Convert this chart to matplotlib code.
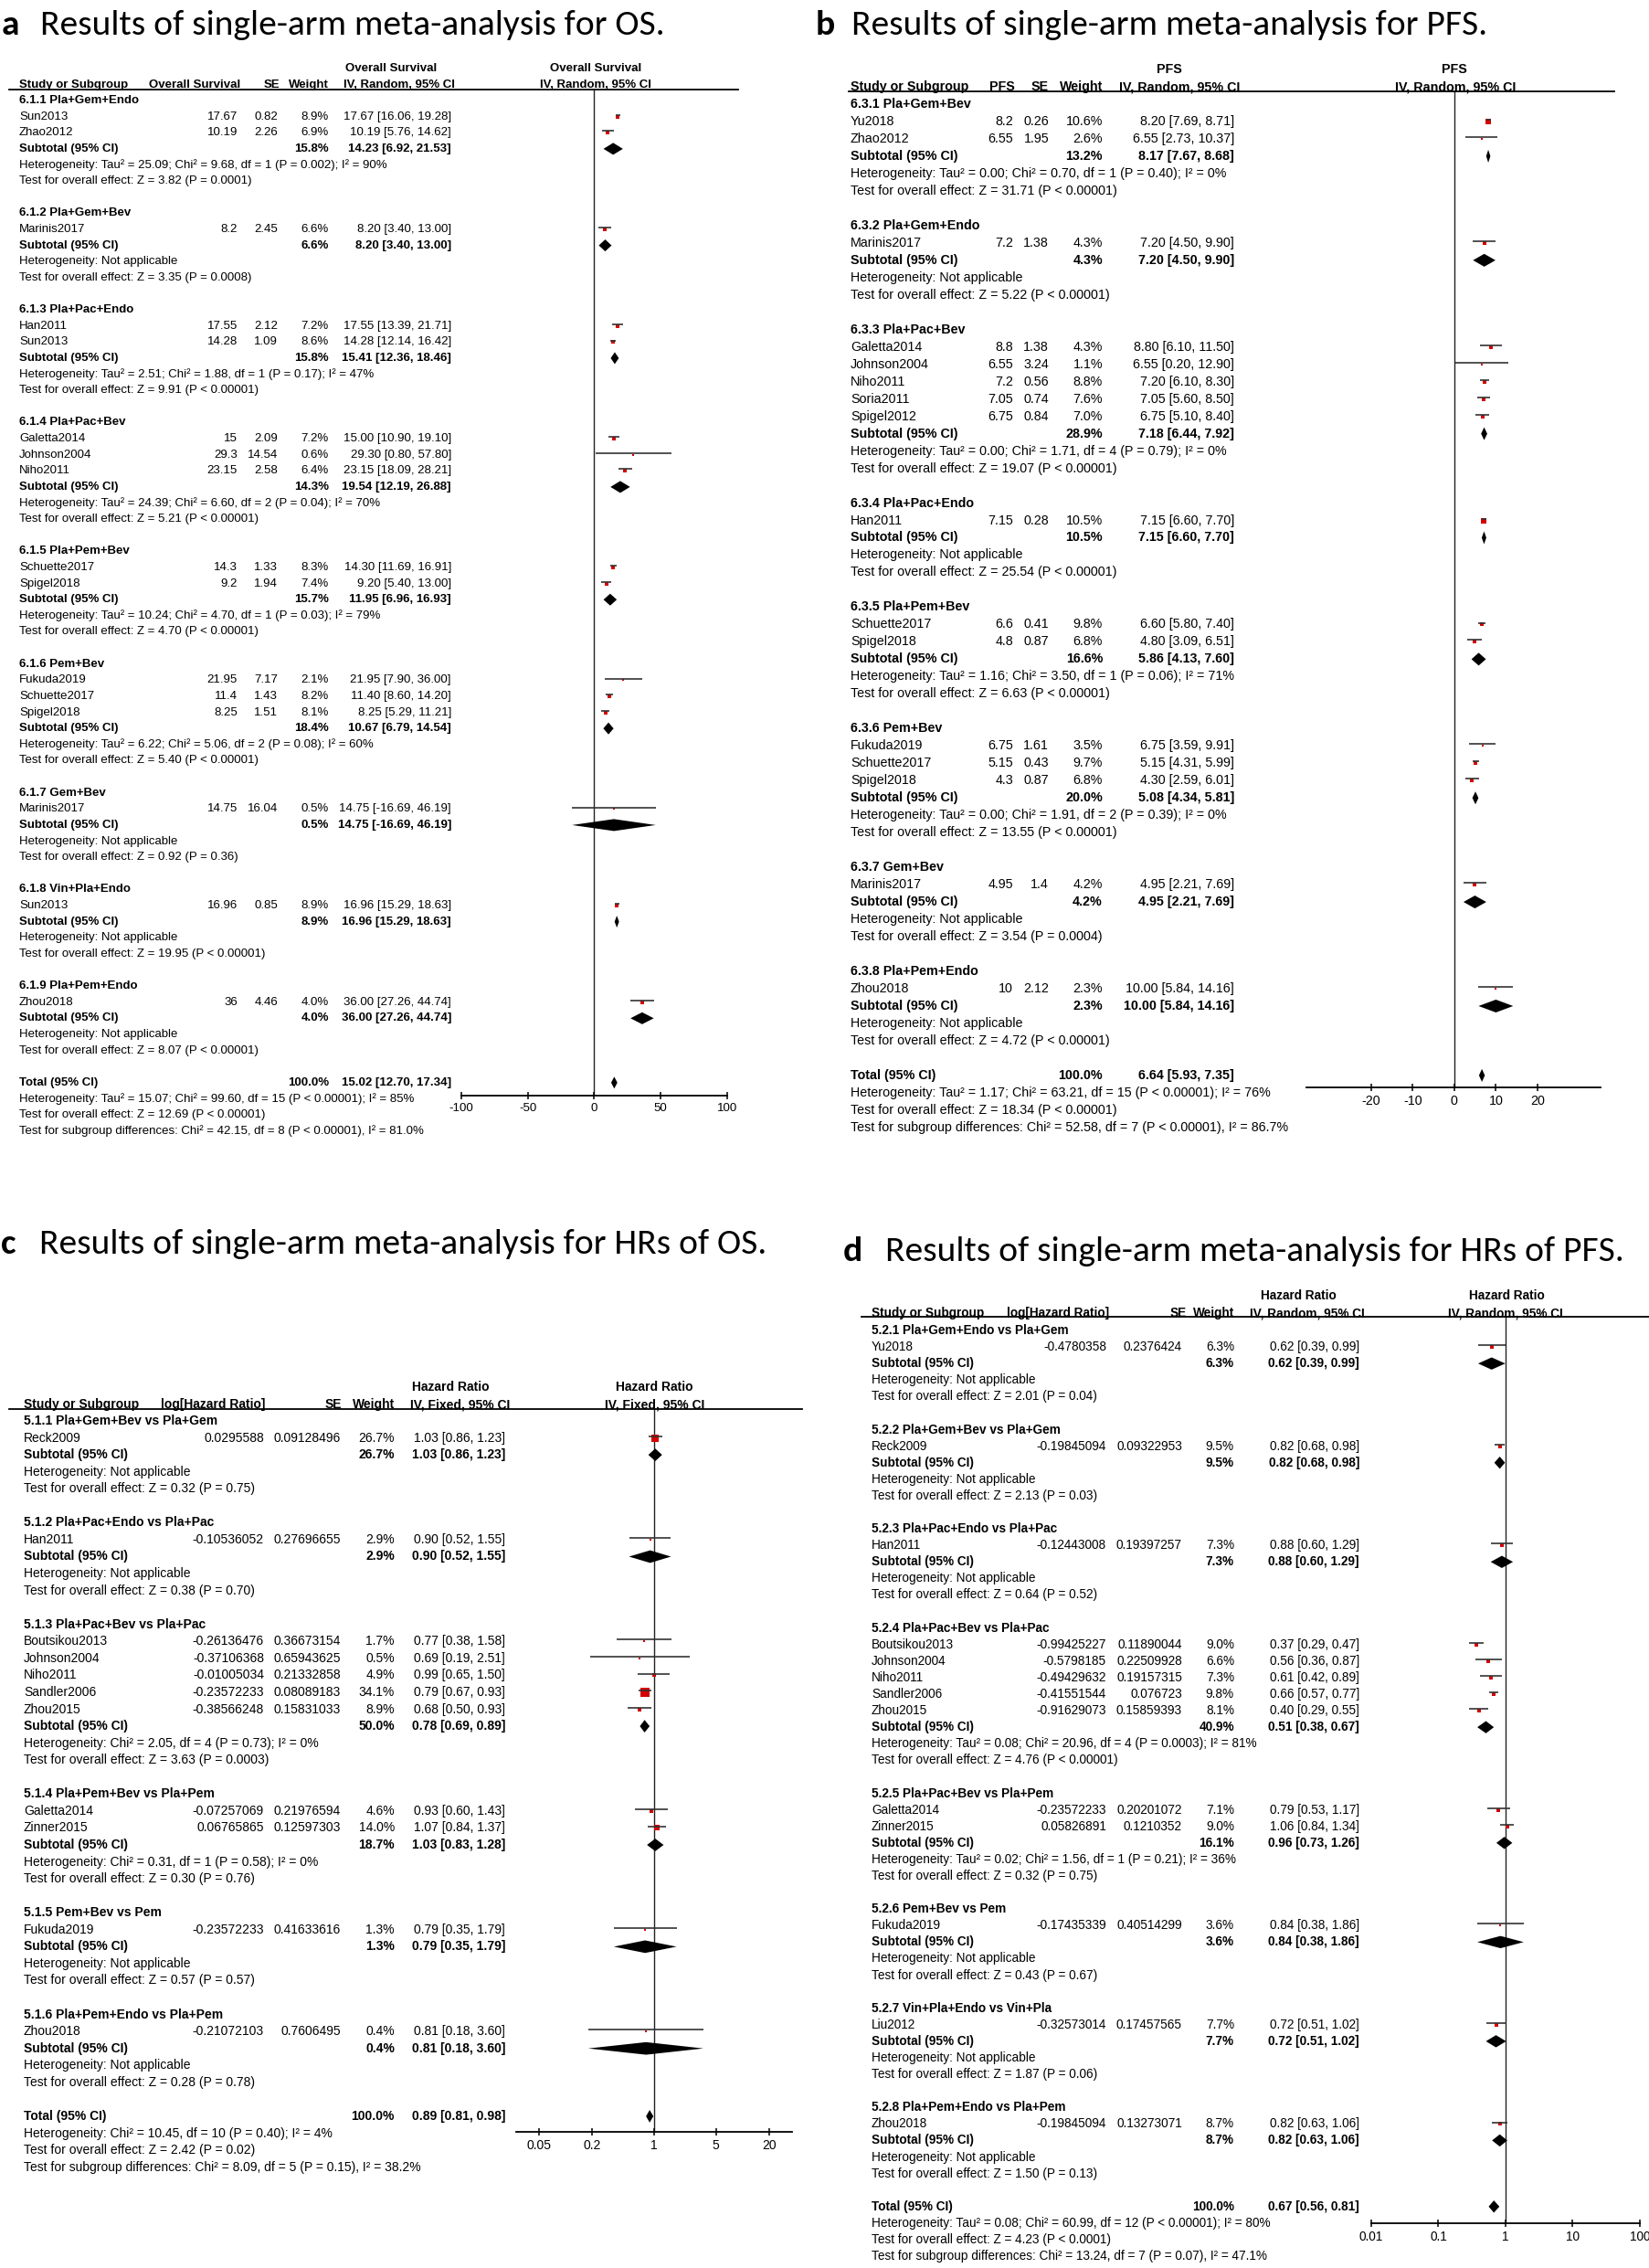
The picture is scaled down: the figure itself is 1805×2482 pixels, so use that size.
import matplotlib
matplotlib.use("Agg")
import matplotlib.pyplot as plt
from matplotlib import font_manager
from matplotlib.lines import Line2D
from matplotlib.ticker import NullLocator

W, H = 1806, 2482

# ---------------- panel a: OS ----------------
OS_GROUPS = ["6.1.1 Pla+Gem+Endo", "6.1.2 Pla+Gem+Bev", "6.1.3 Pla+Pac+Endo", "6.1.4 Pla+Pac+Bev",
             "6.1.5 Pla+Pem+Bev", "6.1.6 Pem+Bev", "6.1.7 Gem+Bev", "6.1.8 Vin+Pla+Endo", "6.1.9 Pla+Pem+Endo"]
OS_STUDY = [["Sun2013", "Zhao2012"], ["Marinis2017"], ["Han2011", "Sun2013"],
            ["Galetta2014", "Johnson2004", "Niho2011"], ["Schuette2017", "Spigel2018"],
            ["Fukuda2019", "Schuette2017", "Spigel2018"], ["Marinis2017"], ["Sun2013"], ["Zhou2018"]]
OS_VALUE = [["17.67", "10.19"], ["8.2"], ["17.55", "14.28"], ["15", "29.3", "23.15"], ["14.3", "9.2"],
            ["21.95", "11.4", "8.25"], ["14.75"], ["16.96"], ["36"]]
OS_SE = [["0.82", "2.26"], ["2.45"], ["2.12", "1.09"], ["2.09", "14.54", "2.58"], ["1.33", "1.94"],
         ["7.17", "1.43", "1.51"], ["16.04"], ["0.85"], ["4.46"]]
OS_WEIGHT = [[8.9, 6.9], [6.6], [7.2, 8.6], [7.2, 0.6, 6.4], [8.3, 7.4], [2.1, 8.2, 8.1], [0.5], [8.9], [4.0]]
OS_EST = [[17.67, 10.19], [8.20], [17.55, 14.28], [15.00, 29.30, 23.15], [14.30, 9.20],
          [21.95, 11.40, 8.25], [14.75], [16.96], [36.00]]
OS_LO = [[16.06, 5.76], [3.40], [13.39, 12.14], [10.90, 0.80, 18.09], [11.69, 5.40],
         [7.90, 8.60, 5.29], [-16.69], [15.29], [27.26]]
OS_HI = [[19.28, 14.62], [13.00], [21.71, 16.42], [19.10, 57.80, 28.21], [16.91, 13.00],
         [36.00, 14.20, 11.21], [46.19], [18.63], [44.74]]
OS_SUB_WEIGHT = [15.8, 6.6, 15.8, 14.3, 15.7, 18.4, 0.5, 8.9, 4.0]
OS_SUB_EST = [14.23, 8.20, 15.41, 19.54, 11.95, 10.67, 14.75, 16.96, 36.00]
OS_SUB_LO = [6.92, 3.40, 12.36, 12.19, 6.96, 6.79, -16.69, 15.29, 27.26]
OS_SUB_HI = [21.53, 13.00, 18.46, 26.88, 16.93, 14.54, 46.19, 18.63, 44.74]
OS_HET = ["Tau² = 25.09; Chi² = 9.68, df = 1 (P = 0.002); I² = 90%", "Not applicable",
          "Tau² = 2.51; Chi² = 1.88, df = 1 (P = 0.17); I² = 47%",
          "Tau² = 24.39; Chi² = 6.60, df = 2 (P = 0.04); I² = 70%",
          "Tau² = 10.24; Chi² = 4.70, df = 1 (P = 0.03); I² = 79%",
          "Tau² = 6.22; Chi² = 5.06, df = 2 (P = 0.08); I² = 60%",
          "Not applicable", "Not applicable", "Not applicable"]
OS_Z = ["Z = 3.82 (P = 0.0001)", "Z = 3.35 (P = 0.0008)", "Z = 9.91 (P < 0.00001)", "Z = 5.21 (P < 0.00001)",
        "Z = 4.70 (P < 0.00001)", "Z = 5.40 (P < 0.00001)", "Z = 0.92 (P = 0.36)", "Z = 19.95 (P < 0.00001)",
        "Z = 8.07 (P < 0.00001)"]
OS_TOTAL = [100.0, 15.02, 12.70, 17.34]
OS_FOOT = ["Heterogeneity: Tau² = 15.07; Chi² = 99.60, df = 15 (P < 0.00001); I² = 85%",
           "Test for overall effect: Z = 12.69 (P < 0.00001)",
           "Test for subgroup differences: Chi² = 42.15, df = 8 (P < 0.00001), I² = 81.0%"]
OS_TICKS = [-100, -50, 0, 50, 100]

# ---------------- panel b: PFS ----------------
PFS_GROUPS = ["6.3.1 Pla+Gem+Bev", "6.3.2 Pla+Gem+Endo", "6.3.3 Pla+Pac+Bev", "6.3.4 Pla+Pac+Endo",
              "6.3.5 Pla+Pem+Bev", "6.3.6 Pem+Bev", "6.3.7 Gem+Bev", "6.3.8 Pla+Pem+Endo"]
PFS_STUDY = [["Yu2018", "Zhao2012"], ["Marinis2017"],
             ["Galetta2014", "Johnson2004", "Niho2011", "Soria2011", "Spigel2012"], ["Han2011"],
             ["Schuette2017", "Spigel2018"], ["Fukuda2019", "Schuette2017", "Spigel2018"], ["Marinis2017"],
             ["Zhou2018"]]
PFS_VALUE = [["8.2", "6.55"], ["7.2"], ["8.8", "6.55", "7.2", "7.05", "6.75"], ["7.15"], ["6.6", "4.8"],
             ["6.75", "5.15", "4.3"], ["4.95"], ["10"]]
PFS_SE = [["0.26", "1.95"], ["1.38"], ["1.38", "3.24", "0.56", "0.74", "0.84"], ["0.28"], ["0.41", "0.87"],
          ["1.61", "0.43", "0.87"], ["1.4"], ["2.12"]]
PFS_WEIGHT = [[10.6, 2.6], [4.3], [4.3, 1.1, 8.8, 7.6, 7.0], [10.5], [9.8, 6.8], [3.5, 9.7, 6.8], [4.2], [2.3]]
PFS_EST = [[8.20, 6.55], [7.20], [8.80, 6.55, 7.20, 7.05, 6.75], [7.15], [6.60, 4.80], [6.75, 5.15, 4.30],
           [4.95], [10.00]]
PFS_LO = [[7.69, 2.73], [4.50], [6.10, 0.20, 6.10, 5.60, 5.10], [6.60], [5.80, 3.09], [3.59, 4.31, 2.59],
          [2.21], [5.84]]
PFS_HI = [[8.71, 10.37], [9.90], [11.50, 12.90, 8.30, 8.50, 8.40], [7.70], [7.40, 6.51], [9.91, 5.99, 6.01],
          [7.69], [14.16]]
PFS_SUB_WEIGHT = [13.2, 4.3, 28.9, 10.5, 16.6, 20.0, 4.2, 2.3]
PFS_SUB_EST = [8.17, 7.20, 7.18, 7.15, 5.86, 5.08, 4.95, 10.00]
PFS_SUB_LO = [7.67, 4.50, 6.44, 6.60, 4.13, 4.34, 2.21, 5.84]
PFS_SUB_HI = [8.68, 9.90, 7.92, 7.70, 7.60, 5.81, 7.69, 14.16]
PFS_HET = ["Tau² = 0.00; Chi² = 0.70, df = 1 (P = 0.40); I² = 0%", "Not applicable",
           "Tau² = 0.00; Chi² = 1.71, df = 4 (P = 0.79); I² = 0%", "Not applicable",
           "Tau² = 1.16; Chi² = 3.50, df = 1 (P = 0.06); I² = 71%",
           "Tau² = 0.00; Chi² = 1.91, df = 2 (P = 0.39); I² = 0%", "Not applicable", "Not applicable"]
PFS_Z = ["Z = 31.71 (P < 0.00001)", "Z = 5.22 (P < 0.00001)", "Z = 19.07 (P < 0.00001)",
         "Z = 25.54 (P < 0.00001)", "Z = 6.63 (P < 0.00001)", "Z = 13.55 (P < 0.00001)",
         "Z = 3.54 (P = 0.0004)", "Z = 4.72 (P < 0.00001)"]
PFS_TOTAL = [100.0, 6.64, 5.93, 7.35]
PFS_FOOT = ["Heterogeneity: Tau² = 1.17; Chi² = 63.21, df = 15 (P < 0.00001); I² = 76%",
            "Test for overall effect: Z = 18.34 (P < 0.00001)",
            "Test for subgroup differences: Chi² = 52.58, df = 7 (P < 0.00001), I² = 86.7%"]
PFS_TICKS = [-20, -10, 0, 10, 20]

# ---------------- panel c: HR of OS ----------------
HROS_GROUPS = ["5.1.1 Pla+Gem+Bev vs Pla+Gem", "5.1.2 Pla+Pac+Endo vs Pla+Pac", "5.1.3 Pla+Pac+Bev vs Pla+Pac",
               "5.1.4 Pla+Pem+Bev vs Pla+Pem", "5.1.5 Pem+Bev vs Pem", "5.1.6 Pla+Pem+Endo vs Pla+Pem"]
HROS_STUDY = [["Reck2009"], ["Han2011"], ["Boutsikou2013", "Johnson2004", "Niho2011", "Sandler2006", "Zhou2015"],
              ["Galetta2014", "Zinner2015"], ["Fukuda2019"], ["Zhou2018"]]
HROS_LOGHR = [["0.0295588"], ["-0.10536052"],
              ["-0.26136476", "-0.37106368", "-0.01005034", "-0.23572233", "-0.38566248"],
              ["-0.07257069", "0.06765865"], ["-0.23572233"], ["-0.21072103"]]
HROS_SE = [["0.09128496"], ["0.27696655"], ["0.36673154", "0.65943625", "0.21332858", "0.08089183", "0.15831033"],
           ["0.21976594", "0.12597303"], ["0.41633616"], ["0.7606495"]]
HROS_WEIGHT = [[26.7], [2.9], [1.7, 0.5, 4.9, 34.1, 8.9], [4.6, 14.0], [1.3], [0.4]]
HROS_HR = [[1.03], [0.90], [0.77, 0.69, 0.99, 0.79, 0.68], [0.93, 1.07], [0.79], [0.81]]
HROS_LO = [[0.86], [0.52], [0.38, 0.19, 0.65, 0.67, 0.50], [0.60, 0.84], [0.35], [0.18]]
HROS_HI = [[1.23], [1.55], [1.58, 2.51, 1.50, 0.93, 0.93], [1.43, 1.37], [1.79], [3.60]]
HROS_SUB_WEIGHT = [26.7, 2.9, 50.0, 18.7, 1.3, 0.4]
HROS_SUB_HR = [1.03, 0.90, 0.78, 1.03, 0.79, 0.81]
HROS_SUB_LO = [0.86, 0.52, 0.69, 0.83, 0.35, 0.18]
HROS_SUB_HI = [1.23, 1.55, 0.89, 1.28, 1.79, 3.60]
HROS_HET = ["Not applicable", "Not applicable", "Chi² = 2.05, df = 4 (P = 0.73); I² = 0%",
            "Chi² = 0.31, df = 1 (P = 0.58); I² = 0%", "Not applicable", "Not applicable"]
HROS_Z = ["Z = 0.32 (P = 0.75)", "Z = 0.38 (P = 0.70)", "Z = 3.63 (P = 0.0003)", "Z = 0.30 (P = 0.76)",
          "Z = 0.57 (P = 0.57)", "Z = 0.28 (P = 0.78)"]
HROS_TOTAL = [100.0, 0.89, 0.81, 0.98]
HROS_FOOT = ["Heterogeneity: Chi² = 10.45, df = 10 (P = 0.40); I² = 4%",
             "Test for overall effect: Z = 2.42 (P = 0.02)",
             "Test for subgroup differences: Chi² = 8.09, df = 5 (P = 0.15), I² = 38.2%"]
HROS_TICKS = [0.05, 0.2, 1, 5, 20]

# ---------------- panel d: HR of PFS ----------------
HRPFS_GROUPS = ["5.2.1 Pla+Gem+Endo vs Pla+Gem", "5.2.2 Pla+Gem+Bev vs Pla+Gem", "5.2.3 Pla+Pac+Endo vs Pla+Pac",
                "5.2.4 Pla+Pac+Bev vs Pla+Pac", "5.2.5 Pla+Pac+Bev vs Pla+Pem", "5.2.6 Pem+Bev vs Pem",
                "5.2.7 Vin+Pla+Endo vs Vin+Pla", "5.2.8 Pla+Pem+Endo vs Pla+Pem"]
HRPFS_STUDY = [["Yu2018"], ["Reck2009"], ["Han2011"],
               ["Boutsikou2013", "Johnson2004", "Niho2011", "Sandler2006", "Zhou2015"],
               ["Galetta2014", "Zinner2015"], ["Fukuda2019"], ["Liu2012"], ["Zhou2018"]]
HRPFS_LOGHR = [["-0.4780358"], ["-0.19845094"], ["-0.12443008"],
               ["-0.99425227", "-0.5798185", "-0.49429632", "-0.41551544", "-0.91629073"],
               ["-0.23572233", "0.05826891"], ["-0.17435339"], ["-0.32573014"], ["-0.19845094"]]
HRPFS_SE = [["0.2376424"], ["0.09322953"], ["0.19397257"],
            ["0.11890044", "0.22509928", "0.19157315", "0.076723", "0.15859393"],
            ["0.20201072", "0.1210352"], ["0.40514299"], ["0.17457565"], ["0.13273071"]]
HRPFS_WEIGHT = [[6.3], [9.5], [7.3], [9.0, 6.6, 7.3, 9.8, 8.1], [7.1, 9.0], [3.6], [7.7], [8.7]]
HRPFS_HR = [[0.62], [0.82], [0.88], [0.37, 0.56, 0.61, 0.66, 0.40], [0.79, 1.06], [0.84], [0.72], [0.82]]
HRPFS_LO = [[0.39], [0.68], [0.60], [0.29, 0.36, 0.42, 0.57, 0.29], [0.53, 0.84], [0.38], [0.51], [0.63]]
HRPFS_HI = [[0.99], [0.98], [1.29], [0.47, 0.87, 0.89, 0.77, 0.55], [1.17, 1.34], [1.86], [1.02], [1.06]]
HRPFS_SUB_WEIGHT = [6.3, 9.5, 7.3, 40.9, 16.1, 3.6, 7.7, 8.7]
HRPFS_SUB_HR = [0.62, 0.82, 0.88, 0.51, 0.96, 0.84, 0.72, 0.82]
HRPFS_SUB_LO = [0.39, 0.68, 0.60, 0.38, 0.73, 0.38, 0.51, 0.63]
HRPFS_SUB_HI = [0.99, 0.98, 1.29, 0.67, 1.26, 1.86, 1.02, 1.06]
HRPFS_HET = ["Not applicable", "Not applicable", "Not applicable",
             "Tau² = 0.08; Chi² = 20.96, df = 4 (P = 0.0003); I² = 81%",
             "Tau² = 0.02; Chi² = 1.56, df = 1 (P = 0.21); I² = 36%",
             "Not applicable", "Not applicable", "Not applicable"]
HRPFS_Z = ["Z = 2.01 (P = 0.04)", "Z = 2.13 (P = 0.03)", "Z = 0.64 (P = 0.52)", "Z = 4.76 (P < 0.00001)",
           "Z = 0.32 (P = 0.75)", "Z = 0.43 (P = 0.67)", "Z = 1.87 (P = 0.06)", "Z = 1.50 (P = 0.13)"]
HRPFS_TOTAL = [100.0, 0.67, 0.56, 0.81]
HRPFS_FOOT = ["Heterogeneity: Tau² = 0.08; Chi² = 60.99, df = 12 (P < 0.00001); I² = 80%",
              "Test for overall effect: Z = 4.23 (P < 0.0001)",
              "Test for subgroup differences: Chi² = 13.24, df = 7 (P = 0.07), I² = 47.1%"]
HRPFS_TICKS = [0.01, 0.1, 1, 10, 100]

# layout of each panel, in pixels of the 1806x2482 picture
LAY_A = dict(letter="a", title="Results of single-arm meta-analysis for OS.", letter_x=2, title_x=44, title_y=27,
             header=[(428, 75, "Overall Survival", "center"), (652, 75, "Overall Survival", "center"),
                     (21, 93, "Study or Subgroup", "left"), (263, 93, "Overall Survival", "right"),
                     (306, 93, "SE", "right"), (360, 93, "Weight", "right"),
                     (437, 93, "IV, Random, 95% CI", "center"), (652, 93, "IV, Random, 95% CI", "center")],
             hline=(10, 808, 98), name_x=21, val_r=260, se_r=304, w_r=360, ci_r=494,
             y0=110, dy=17.62, ax_l=505, ax_r=796, ax_y=1199, xlim=(-100, 100), log=False, null=0,
             fit_width=404)
LAY_B = dict(letter="b", title="Results of single-arm meta-analysis for PFS.", letter_x=893, title_x=932, title_y=27,
             header=[(1280, 76, "PFS", "center"), (1592, 76, "PFS", "center"),
                     (931, 95, "Study or Subgroup", "left"), (1111, 95, "PFS", "right"),
                     (1148, 95, "SE", "right"), (1207, 95, "Weight", "right"),
                     (1291, 95, "IV, Random, 95% CI", "center"), (1593, 95, "IV, Random, 95% CI", "center")],
             hline=(929, 1767, 100), name_x=931, val_r=1109, se_r=1148, w_r=1207, ci_r=1351,
             y0=114, dy=18.98, ax_l=1430, ax_r=1752, ax_y=1190, xlim=(-35.6, 35.2), log=False, null=0,
             fit_width=409)
LAY_C = dict(letter="c", title="Results of single-arm meta-analysis for HRs of OS.", letter_x=1, title_x=43,
             title_y=1362,
             header=[(493, 1518, "Hazard Ratio", "center"), (716, 1518, "Hazard Ratio", "center"),
                     (26, 1537, "Study or Subgroup", "left"), (176, 1537, "log[Hazard Ratio]", "left"),
                     (374, 1537, "SE", "right"), (432, 1537, "Weight", "right"),
                     (504, 1537, "IV, Fixed, 95% CI", "center"), (717, 1537, "IV, Fixed, 95% CI", "center")],
             hline=(10, 878, 1542), name_x=26, val_r=289, se_r=373, w_r=432, ci_r=553,
             y0=1555, dy=18.56, ax_l=565, ax_r=867, ax_y=2333, xlim=(0.0276, 36.2), log=True, null=1,
             fit_width=322)
LAY_D = dict(letter="d", title="Results of single-arm meta-analysis for HRs of PFS.", letter_x=923, title_x=969,
             title_y=1370,
             header=[(1421, 1418, "Hazard Ratio", "center"), (1649, 1418, "Hazard Ratio", "center"),
                     (954, 1437, "Study or Subgroup", "left"), (1102, 1437, "log[Hazard Ratio]", "left"),
                     (1299, 1437, "SE", "right"), (1351, 1437, "Weight", "right"),
                     (1431, 1437, "IV, Random, 95% CI", "center"), (1648, 1437, "IV, Random, 95% CI", "center")],
             hline=(943, 1806, 1441), name_x=954, val_r=1211, se_r=1294, w_r=1351, ci_r=1488,
             y0=1456, dy=18.09, ax_l=1501, ax_r=1795, ax_y=2433, xlim=(0.01, 100), log=True, null=1,
             fit_width=424)

installed = {f.name for f in font_manager.fontManager.ttflist}
TABLE_FONT = "Liberation Sans" if "Liberation Sans" in installed else "DejaVu Sans"
TITLE_FONT = "DejaVu Sans"
for fam in ["Carlito", "Lato", "Open Sans"]:
    if fam in installed:
        TITLE_FONT = fam
        break

RED = "#d40000"
GREY = "#333333"

fig = plt.figure(figsize=(W / 100, H / 100), dpi=100)
fig.patch.set_facecolor("white")
renderer = fig.canvas.get_renderer()


def fit_size(s, family, target, weight="normal"):
    t = fig.text(0, 0, s, fontsize=10, family=family, fontweight=weight)
    w = t.get_window_extent(renderer).width
    t.remove()
    return 10 * target / w


def put(x, y, s, size, ha="left", bold=False, family=None):
    fig.text(x / W, 1 - y / H, s, fontsize=size, ha=ha, va="center",
             family=family or TABLE_FONT, fontweight="bold" if bold else "normal")


TITLE_SIZE = fit_size(LAY_A["title"], TITLE_FONT, 685)


def ci_text(e, l, h):
    return f"{e:.2f} [{l:.2f}, {h:.2f}]"


def diamond(ax, r, e, l, h, half):
    ax.fill([l, e, h, e], [r, r - half, r, r + half], color="black", lw=0, zorder=3)


def draw_panel(lay, groups, study, value, se, weight, est, lo, hi,
               sub_w, sub_est, sub_lo, sub_hi, het, zt, total, foot, ticks):
    size = fit_size("Heterogeneity: " + [h for h in het if h != "Not applicable"][0], TABLE_FONT,
                    lay["fit_width"])
    y0, dy = lay["y0"], lay["dy"]

    put(lay["letter_x"], lay["title_y"], lay["letter"], TITLE_SIZE, bold=True, family=TITLE_FONT)
    put(lay["title_x"], lay["title_y"], lay["title"], TITLE_SIZE, family=TITLE_FONT)

    for x, y, s, ha in lay["header"]:
        put(x, y, s, size, ha=ha, bold=True)
    x1, x2, yh = lay["hline"]
    fig.add_artist(Line2D([x1 / W, x2 / W], [1 - yh / H, 1 - yh / H], color="black", lw=1.3,
                          transform=fig.transFigure))

    # forest plot axes: x in effect units, y in table rows
    ax = fig.add_axes([lay["ax_l"] / W, 1 - lay["ax_y"] / H, (lay["ax_r"] - lay["ax_l"]) / W,
                       (lay["ax_y"] - yh) / H])
    ax.patch.set_alpha(0)
    if lay["log"]:
        ax.set_xscale("log")
    ax.set_xlim(*lay["xlim"])
    ax.set_ylim((lay["ax_y"] - y0) / dy, (yh - y0) / dy)
    for side in ["left", "right", "top"]:
        ax.spines[side].set_visible(False)
    ax.spines["bottom"].set_linewidth(1.3)
    ax.set_yticks([])
    ax.set_xticks(ticks)
    ax.set_xticklabels([f"{t:g}" for t in ticks])
    ax.xaxis.set_minor_locator(NullLocator())
    ax.tick_params(axis="x", direction="inout", length=6, width=1.1, pad=3, labelsize=size)
    for lab in ax.get_xticklabels():
        lab.set_family(TABLE_FONT)
    ax.axvline(lay["null"], color="#222222", lw=1.0, zorder=1)

    half = 0.37
    r = 0
    for g in range(len(groups)):
        put(lay["name_x"], y0 + r * dy, groups[g], size, bold=True)
        for i in range(len(study[g])):
            r += 1
            y = y0 + r * dy
            put(lay["name_x"], y, study[g][i], size)
            put(lay["val_r"], y, value[g][i], size, ha="right")
            put(lay["se_r"], y, se[g][i], size, ha="right")
            put(lay["w_r"], y, f"{weight[g][i]:.1f}%", size, ha="right")
            put(lay["ci_r"], y, ci_text(est[g][i], lo[g][i], hi[g][i]), size, ha="right")
            side = max(2.2, 1.55 * weight[g][i] ** 0.5) * 0.72
            ax.scatter([est[g][i]], [r], s=side ** 2, marker="s", color=RED, lw=0, zorder=2)
            ax.hlines(r - 0.1, lo[g][i], hi[g][i], color=GREY, lw=1.2, zorder=3)
        r += 1
        y = y0 + r * dy
        put(lay["name_x"], y, "Subtotal (95% CI)", size, bold=True)
        put(lay["w_r"], y, f"{sub_w[g]:.1f}%", size, ha="right", bold=True)
        put(lay["ci_r"], y, ci_text(sub_est[g], sub_lo[g], sub_hi[g]), size, ha="right", bold=True)
        diamond(ax, r, sub_est[g], sub_lo[g], sub_hi[g], half)
        put(lay["name_x"], y0 + (r + 1) * dy, "Heterogeneity: " + het[g], size)
        put(lay["name_x"], y0 + (r + 2) * dy, "Test for overall effect: " + zt[g], size)
        r += 4

    y = y0 + r * dy
    put(lay["name_x"], y, "Total (95% CI)", size, bold=True)
    put(lay["w_r"], y, f"{total[0]:.1f}%", size, ha="right", bold=True)
    put(lay["ci_r"], y, ci_text(total[1], total[2], total[3]), size, ha="right", bold=True)
    diamond(ax, r, total[1], total[2], total[3], half)
    for k, s in enumerate(foot):
        put(lay["name_x"], y0 + (r + 1 + k) * dy, s, size)


draw_panel(LAY_A, OS_GROUPS, OS_STUDY, OS_VALUE, OS_SE, OS_WEIGHT, OS_EST, OS_LO, OS_HI,
           OS_SUB_WEIGHT, OS_SUB_EST, OS_SUB_LO, OS_SUB_HI, OS_HET, OS_Z, OS_TOTAL, OS_FOOT, OS_TICKS)
draw_panel(LAY_B, PFS_GROUPS, PFS_STUDY, PFS_VALUE, PFS_SE, PFS_WEIGHT, PFS_EST, PFS_LO, PFS_HI,
           PFS_SUB_WEIGHT, PFS_SUB_EST, PFS_SUB_LO, PFS_SUB_HI, PFS_HET, PFS_Z, PFS_TOTAL, PFS_FOOT, PFS_TICKS)
draw_panel(LAY_C, HROS_GROUPS, HROS_STUDY, HROS_LOGHR, HROS_SE, HROS_WEIGHT, HROS_HR, HROS_LO, HROS_HI,
           HROS_SUB_WEIGHT, HROS_SUB_HR, HROS_SUB_LO, HROS_SUB_HI, HROS_HET, HROS_Z, HROS_TOTAL, HROS_FOOT,
           HROS_TICKS)
draw_panel(LAY_D, HRPFS_GROUPS, HRPFS_STUDY, HRPFS_LOGHR, HRPFS_SE, HRPFS_WEIGHT, HRPFS_HR, HRPFS_LO, HRPFS_HI,
           HRPFS_SUB_WEIGHT, HRPFS_SUB_HR, HRPFS_SUB_LO, HRPFS_SUB_HI, HRPFS_HET, HRPFS_Z, HRPFS_TOTAL,
           HRPFS_FOOT, HRPFS_TICKS)

fig.savefig("out.png", dpi=100)
